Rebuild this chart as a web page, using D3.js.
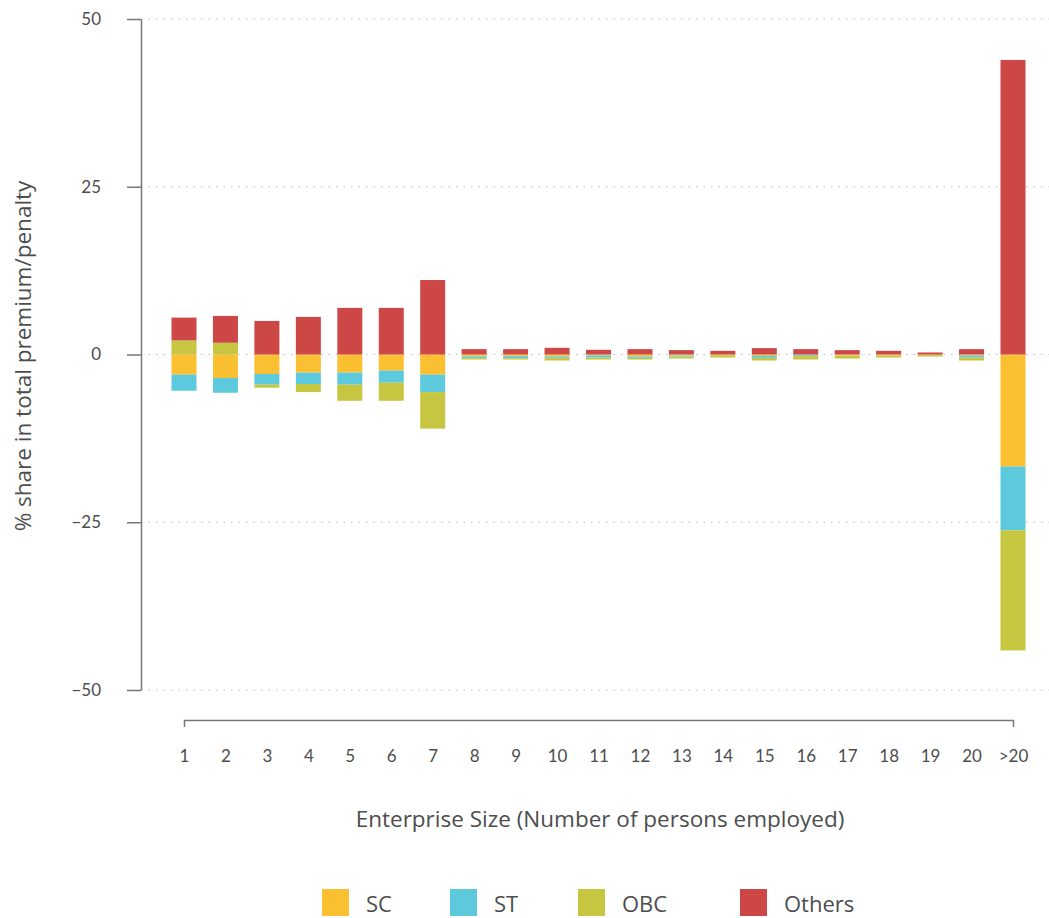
<!DOCTYPE html>
<html><head><meta charset="utf-8">
<script src="https://cdn.jsdelivr.net/npm/d3@7"></script>
<style>
body{margin:0;background:#fff;}
text{font-family:"Open Sans",Lato,sans-serif;fill:#4d4d4d;}
</style></head>
<body><svg id="c" width="1049" height="918"></svg>
<script>
const categories = ["1","2","3","4","5","6","7","8","9","10","11","12","13","14","15","16","17","18","19","20",">20"];
const sc     = [-3.0,-3.5,-2.9,-2.7,-2.7,-2.4,-3.0,-0.3,-0.25,-0.3,-0.15,-0.3,-0.15,-0.1,-0.2,-0.1,-0.15,-0.15,-0.05,-0.15,-16.7];
const st     = [-2.4,-2.2,-1.6,-1.7,-1.8,-1.8,-2.6,-0.25,-0.3,-0.2,-0.3,-0.2,-0.15,0,-0.3,-0.15,0,0,0,-0.3,-9.5];
const obc    = [2.1,1.75,-0.45,-1.2,-2.4,-2.7,-5.45,-0.2,-0.2,-0.4,-0.3,-0.25,-0.3,-0.35,-0.4,-0.5,-0.45,-0.3,-0.25,-0.45,-17.9];
const others = [3.4,4.0,5.0,5.6,6.95,6.95,11.1,0.8,0.8,1.0,0.7,0.8,0.65,0.55,0.95,0.8,0.65,0.55,0.3,0.8,43.9];
const seriesKeys = ["SC","ST","OBC","Others"];
const seriesColors = ["#FBBF32","#5CC9DC","#C6C640","#CE4747"];
const yTicks = [-50,-25,0,25,50];

const rows = categories.map((c,i)=>({cat:c, SC:sc[i], ST:st[i], OBC:obc[i], Others:others[i]}));
const stack = d3.stack().keys(seriesKeys).offset(d3.stackOffsetDiverging)(rows);

const svg = d3.select("#c");
const y = d3.scaleLinear().domain([-50,50]).range([690,19]);
const x = d3.scalePoint().domain(categories).range([184,1013]);
const barW = 25;
const color = d3.scaleOrdinal().domain(seriesKeys).range(seriesColors);

// gridlines
svg.append("g").selectAll("line").data(yTicks).join("line")
  .attr("x1",141).attr("x2",1049)
  .attr("y1",d=>y(d)).attr("y2",d=>y(d))
  .attr("stroke","#bbb").attr("stroke-width",1.2).attr("stroke-dasharray","1.5,6");

// y axis
const yAxis = svg.append("g").attr("transform","translate(141,0)")
  .call(d3.axisLeft(y).tickValues(yTicks).tickSize(14).tickPadding(26).tickSizeOuter(0)
    .tickFormat(d=>d<0?"\u2212"+Math.abs(d):d));
yAxis.selectAll("path,line").attr("stroke","#777").attr("stroke-width",1.5);
yAxis.selectAll("text").attr("font-size",17).attr("fill","#555").style("font-family","Lato,sans-serif");

// bars
svg.append("g").selectAll("g").data(stack).join("g")
  .attr("fill",d=>color(d.key))
  .selectAll("rect").data(d=>d).join("rect")
  .attr("x",d=>x(d.data.cat)-barW/2)
  .attr("width",barW)
  .attr("y",d=>y(d[1]))
  .attr("height",d=>Math.max(0,y(d[0])-y(d[1])));

// x axis
const xAxis = svg.append("g").attr("transform","translate(0,720)")
  .call(d3.axisBottom(x).tickSizeInner(0).tickSizeOuter(7).tickPadding(30));
xAxis.selectAll("path").attr("stroke","#777").attr("stroke-width",1.5);
xAxis.selectAll("text").attr("font-size",17).attr("fill","#555").style("font-family","Lato,sans-serif");

// axis titles
svg.append("text").attr("x",600).attr("y",827).attr("text-anchor","middle")
  .attr("font-size",22.5).text("Enterprise Size (Number of persons employed)");
svg.append("text").attr("transform","translate(31,356) rotate(-90)").attr("text-anchor","middle")
  .attr("font-size",22.5).text("% share in total premium/penalty");

// legend
const legX = [322,450,578,740];
const leg = svg.append("g").selectAll("g").data(seriesKeys).join("g")
  .attr("transform",(d,i)=>`translate(${legX[i]},889)`);
leg.append("rect").attr("width",27).attr("height",27).attr("fill",d=>color(d));
leg.append("text").attr("x",44).attr("y",23).attr("font-size",22).text(d=>d);
</script></body></html>
